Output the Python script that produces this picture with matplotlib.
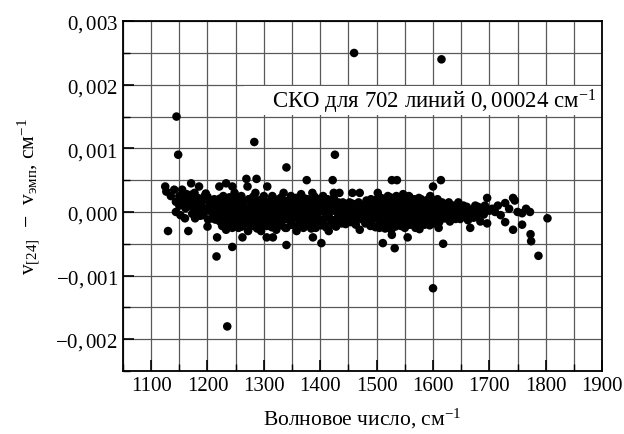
import matplotlib
matplotlib.use("Agg")
import matplotlib.pyplot as plt
import numpy as np
from matplotlib.patches import Rectangle
from matplotlib.ticker import MultipleLocator, FuncFormatter

plt.rcParams['font.family'] = ['Liberation Serif', 'DejaVu Serif']
plt.rcParams['mathtext.fontset'] = 'custom'
plt.rcParams['mathtext.rm'] = 'Liberation Serif'
plt.rcParams['mathtext.it'] = 'Liberation Serif:italic'

# Волновые числа линий (см^-1) и невязки, в единицах 1e-4 см^-1
wn_left = [1125, 1127, 1130, 1135, 1141, 1145, 1148, 1144, 1144, 1150, 1155, 1152,
           1158, 1162, 1160, 1166, 1168, 1171, 1171, 1175, 1178, 1180, 1185, 1185,
           1188, 1192, 1195, 1198, 1200, 1200,
           1150, 1157, 1163, 1170, 1177, 1183, 1190, 1197, 1204, 1154, 1161, 1168,
           1175, 1182, 1189, 1196, 1203, 1173, 1187, 1201]
res_left = [4, 3.2, -3, 2.5, 3.5, 15, 9, 1.6, 0, 1, 3.5, -0.5,
            2, 0.8, -1, -3, 1.5, 4.5, 2.7, 0.5, -1, 2, 4, 0,
            1, -0.5, 2.5, 0.5, 2.4, -2.3,
            2.5, 2.0, 2.8, 1.8, 3.0, 2.2, 1.6, 2.9, 1.5, 1.2, 0.6, 1.0,
            1.4, 0.8, 1.2, 0.5, 0.2, -0.3, -0.6, -1.2]

wn_1200 = [1205, 1208, 1210, 1212, 1215, 1216, 1217, 1220, 1221, 1222, 1225, 1228,
           1230, 1233, 1233, 1235, 1236, 1238, 1240, 1242, 1244, 1244, 1245, 1248,
           1250, 1252, 1255, 1258, 1260, 1262, 1264, 1266, 1269, 1270, 1271, 1272,
           1275, 1277, 1280, 1282, 1283, 1285, 1287, 1288, 1290, 1293, 1295, 1297,
           1300, 1300]
res_1200 = [1, -1, 0.3, 2, -0.5, -7, -4, 1.2, 4, -1.5, 0.5, 2.5,
            -1, 4.5, -2.8, -18, 1, -0.3, 2, -1.8, 4, -5.5, 0.5, 3,
            -1, 1.5, -2.5, 0, 2.5, -4, 1, -1.5, 5.2, 0.5, 4, -3,
            2, -0.8, 1, -2.2, 11, 3, 5.2, 0, -1.5, 1.8, -3, 0.6,
            2.5, -1]

wn_1300 = [1303, 1305, 1306, 1308, 1310, 1312, 1315, 1316, 1318, 1320, 1322, 1325,
           1327, 1330, 1332, 1335, 1336, 1338, 1340, 1340, 1341, 1344, 1346, 1348,
           1350, 1352, 1355, 1357, 1358, 1360, 1362, 1364, 1366, 1368, 1370, 1372,
           1375, 1376, 1377, 1380, 1382, 1384, 1386, 1387, 1388, 1390, 1392, 1395,
           1397, 1400, 1400]
res_1300 = [0, -4, 4, 1.5, -2, 0.8, 2.5, -4, -1, 1.2, -2.8, 0,
            2, -1.5, 1, 3, -0.5, -2.5, 7, -5.2, 1.5, -1, 0.5, 2.5,
            -2, 1, -0.5, 2, -3, 0.5, 1.5, -1.5, 2.8, 0, -2.5, 1,
            -1, 5, 2, 0, -1.8, 1.5, 3, -4, -0.5, 1, -2.5, 2,
            0, -1.2, 1.5]

wn_1400 = [1402, 1403, 1405, 1407, 1409, 1411, 1413, 1415, 1417, 1419, 1421, 1422,
           1424, 1426, 1426, 1428, 1430, 1432, 1434, 1436, 1438, 1440, 1442, 1445,
           1447, 1450, 1452, 1455, 1457, 1458, 1460, 1462, 1464, 1466, 1468, 1470,
           1470, 1472, 1475, 1477, 1480, 1482, 1485, 1487, 1490, 1492, 1495, 1497,
           1500]
res_1400 = [-4.9, 0.5, 2.5, -2, 1, -0.5, 2, -3, 0, 1.5, -1.5, 5,
            3, 9, 0.5, -2.2, 1, -0.8, 3, 0, -1.8, 1.5, -0.5, 1,
            -1.5, 0.3, 1.5, -1, 3, 0.5, 25, -1.8, 1, -0.5, 1.5, 3,
            -2.8, 0, -1.2, 1, -0.3, 1.8, -1.5, 0.5, 2, -2, 0, 1.5,
            -1]

wn_1500 = [1502, 1503, 1505, 1507, 1509, 1511, 1512, 1514, 1516, 1518, 1520, 1522,
           1524, 1526, 1527, 1527, 1528, 1530, 1532, 1533, 1535, 1536, 1537, 1539,
           1541, 1543, 1545, 1547, 1549, 1551, 1553, 1555, 1556, 1557, 1559, 1561,
           1563, 1565, 1567, 1569, 1571, 1573, 1575, 1577, 1579, 1581, 1583, 1585,
           1587, 1589, 1591, 1593, 1595, 1597, 1599, 1600, 1600]
res_1500 = [3, 0.5, -2.5, 1.5, -0.5, -4.9, 2, 0, -1.8, 1, 2.5, -1,
            0.5, -2.8, 5, -3.6, 1.8, -0.5, -5.7, 1, 2.5, 5, -1.5, 0,
            1.8, -2.2, 0.8, 2.8, -1, 0.3, 1.5, -4, -2, 2.5, 0, -1.2,
            1.5, -0.5, 2, -2.5, 0.5, 1.5, -1.5, 0, 2, -0.8, 1, -2,
            0.3, 1.8, -1, 0.8, 2.5, -1.8, 0, 4, -12]

wn_1600 = [1602, 1604, 1606, 1608, 1610, 1612, 1614, 1615, 1616, 1618, 1619, 1621,
           1623, 1625, 1628, 1630, 1633, 1636, 1639, 1642, 1645, 1648, 1651, 1654,
           1657, 1660, 1662, 1666, 1668, 1671, 1675, 1678, 1680, 1684, 1688, 1692,
           1696, 1696, 1700,
           1632, 1638, 1645, 1651, 1657, 1663, 1670, 1676, 1683, 1690, 1636, 1648,
           1660, 1672]
res_1600 = [1.5, -1, 0.5, 2, -2.5, 0, 5, 24, 1.5, -5, -1, 0.5,
            -0.5, 0.6, 1.5, -1.5, 0.3, 1, -1, 0, 1.5, -0.5, 0.5, 1,
            -0.3, 0.8, -1.3, -2.5, 0.3, 0.3, 1, -0.5, 0.8, -1.5, 0.5, 1,
            2.2, -1.8, 0.2,
            1.0, 0.4, 0.8, -0.2, 0.6, 0.2, -0.8, 0.5, 0.1, -0.4, -0.9, -1.1,
            -0.6, -0.9]

wn_right = [1705, 1710, 1715, 1720, 1728, 1728, 1735, 1742, 1742, 1745, 1750, 1758,
            1758, 1765, 1772, 1773, 1774, 1787, 1803]
res_right = [0.5, 0, 1, -0.5, 1.4, -1.6, 0.5, 2.2, -2.8, 1.8, 0, -0.2,
             -2, 0.5, 0, -3.5, -4.6, -6.9, -1]

# плотное ядро 1210-1640 см^-1
wn_core_a = [1222, 1231, 1239, 1247, 1256, 1264, 1273, 1281, 1290, 1298, 1306, 1315,
             1323, 1331, 1340, 1348, 1357, 1365, 1373, 1382, 1390, 1398, 1407, 1415,
             1424, 1432, 1440, 1449, 1457, 1466, 1474, 1483, 1491, 1499, 1508, 1516,
             1524, 1533, 1541, 1550, 1558, 1566, 1575, 1583, 1592, 1600, 1608]
res_core_a = [2.1, 1.7, 2.3, 1.9, 2.2, 1.6, 2.0, 2.4, 1.8, 2.1, 1.5, 2.2,
              1.9, 2.3, 1.7, 2.0, 2.2, 1.6, 2.1, 1.9, 2.4, 1.7, 2.0, 1.8,
              2.2, 1.5, 1.2, 1.0, 1.3, 0.9, 1.1, 1.4, 1.6, 1.9, 2.2, 1.8,
              2.3, 2.0, 1.7, 2.1, 2.4, 1.9, 2.2, 1.6, 2.0, 1.8, 1.2]
wn_core_b = [1212, 1219, 1227, 1236, 1244, 1252, 1260, 1269, 1277, 1286, 1294, 1302,
             1311, 1319, 1327, 1336, 1344, 1352, 1361, 1369, 1378, 1386, 1394, 1403,
             1411, 1420, 1428, 1436, 1445, 1453, 1462, 1470, 1478, 1487, 1495, 1504,
             1512, 1520, 1529, 1537, 1546, 1554, 1562, 1571, 1579, 1588, 1596, 1604,
             1613, 1621, 1630]
res_core_b = [1.3, 0.8, 1.1, 0.7, 1.2, 0.9, 1.4, 0.6, 1.0, 1.2, 0.8, 1.3,
              0.9, 1.1, 0.7, 1.2, 1.0, 0.8, 1.3, 0.9, 1.1, 0.6, 1.2, 1.0,
              0.8, 1.3, 0.9, 0.4, 0.6, 0.3, 0.7, 0.5, 0.8, 1.0, 0.9, 1.2,
              0.7, 1.1, 1.3, 0.9, 1.0, 1.2, 0.8, 1.1, 0.9, 1.3, 0.7, 1.0,
              0.6, 0.8, 0.5]
wn_core_c = [1208, 1216, 1224, 1232, 1241, 1249, 1257, 1266, 1274, 1282, 1291, 1299,
             1307, 1316, 1324, 1333, 1341, 1349, 1358, 1366, 1374, 1383, 1391, 1399,
             1408, 1416, 1425, 1433, 1441, 1450, 1458, 1466, 1475, 1483, 1491, 1500,
             1508, 1517, 1525, 1533, 1542, 1550, 1558, 1567, 1575, 1583, 1592, 1600,
             1609, 1617, 1626, 1634, 1643]
res_core_c = [0.2, -0.3, 0.1, -0.2, 0.3, -0.1, 0.0, 0.2, -0.4, 0.1, -0.2, 0.3,
              0.0, -0.3, 0.2, -0.1, 0.1, -0.2, 0.3, 0.0, -0.1, 0.2, -0.3, 0.1,
              0.0, -0.2, 0.2, -0.1, 0.0, -0.3, 0.1, -0.2, 0.0, 0.2, -0.1, 0.1,
              -0.3, 0.2, 0.0, -0.2, 0.1, -0.1, 0.3, 0.0, -0.2, 0.1, -0.1, 0.2,
              0.0, -0.3, 0.1, -0.1, 0.0]
wn_core_d = [1214, 1222, 1230, 1238, 1247, 1255, 1263, 1272, 1280, 1288, 1297, 1305,
             1313, 1322, 1330, 1338, 1347, 1355, 1363, 1372, 1380, 1389, 1397, 1405,
             1414, 1422, 1430, 1439, 1447, 1456, 1464, 1472, 1481, 1489, 1497, 1506,
             1514, 1522, 1531, 1539, 1548, 1556, 1564, 1573, 1581, 1589, 1598, 1606,
             1614, 1623, 1631, 1640]
res_core_d = [-1.2, -0.8, -1.1, -1.4, -0.9, -1.3, -1.0, -0.7, -1.2, -1.1, -0.9, -1.3,
              -1.0, -1.2, -0.8, -1.1, -1.4, -0.9, -1.2, -1.0, -1.3, -0.8, -1.1, -1.2,
              -0.9, -1.3, -1.0, -0.8, -1.1, -0.9, -1.2, -0.8, -1.0, -1.3, -0.9, -1.1,
              -1.2, -0.8, -1.3, -1.0, -1.1, -0.9, -1.2, -1.4, -1.0, -0.8, -1.1, -1.2,
              -0.9, -1.0, -0.8, -1.1]
wn_core_e = [1226, 1235, 1244, 1253, 1261, 1270, 1279, 1288, 1296, 1305, 1314, 1323,
             1331, 1340, 1349, 1358, 1366, 1375, 1384, 1393, 1401, 1410, 1419, 1428,
             1436, 1445, 1454, 1463, 1480, 1489, 1498, 1506, 1515, 1524, 1533, 1541,
             1550, 1559, 1568, 1576, 1585, 1594, 1603, 1611]
res_core_e = [-2.2, -1.8, -2.5, -2.0, -2.3, -1.7, -2.1, -2.6, -1.9, -2.2, -2.4, -1.8,
              -2.1, -2.5, -2.0, -2.3, -1.9, -2.2, -2.6, -1.8, -2.1, -2.4, -2.0, -2.3,
              -1.7, -1.9, -1.6, -2.0, -1.8, -2.2, -2.4, -1.9, -2.6, -2.1, -2.3, -1.8,
              -2.5, -2.0, -2.2, -2.7, -1.9, -2.1, -1.8, -1.6]

x_ticks = [1100, 1200, 1300, 1400, 1500, 1600, 1700, 1800, 1900]
y_ticks = [-0.002, -0.001, 0.000, 0.001, 0.002, 0.003]

wn = np.array(wn_left + wn_1200 + wn_1300 + wn_1400 + wn_1500 + wn_1600 + wn_right
              + wn_core_a + wn_core_b + wn_core_c + wn_core_d + wn_core_e)
res = np.array(res_left + res_1200 + res_1300 + res_1400 + res_1500 + res_1600 + res_right
               + res_core_a + res_core_b + res_core_c + res_core_d + res_core_e) * 1e-4


def comma_fmt(v, pos):
    if abs(v) < 1e-9:
        v = 0.0
    return f"${v:.3f}$".replace('.', ',')


fig = plt.figure(figsize=(6.24, 4.35), dpi=100)
ax = fig.add_axes([0.197, 0.145, 0.768, 0.804])
ax.set_axisbelow(True)

ax.scatter(wn, res, s=38, c='black', edgecolors='none', zorder=3)

ax.set_xlim(1050, 1900)
ax.set_ylim(-0.0025, 0.003)
ax.set_xticks(x_ticks)
ax.set_yticks(y_ticks)
ax.xaxis.set_minor_locator(MultipleLocator(50))
ax.yaxis.set_minor_locator(MultipleLocator(0.0005))
ax.yaxis.set_major_formatter(FuncFormatter(comma_fmt))

ax.grid(True, which='both', color='0.35', linewidth=0.9)
ax.tick_params(which='both', direction='in', top=False, right=False,
               labelsize=15, color='black')
ax.tick_params(which='major', length=8, width=1.2)
ax.tick_params(which='minor', length=5, width=1.0)
for sp in ax.spines.values():
    sp.set_linewidth(1.3)

ax.set_xlabel('Волновое число, см$^{-1}$', fontsize=15.5, labelpad=8)
ax.set_ylabel('v$_{[24]}$  \u2212  v$_{\\mathrm{эмп}}$, см$^{-1}$', fontsize=15.5, labelpad=10)

# белая подложка под подписью, между линиями сетки 0,0015 и 0,002
ax.add_patch(Rectangle((1265, 0.00152), 635, 0.00046, facecolor='white',
                       edgecolor='none', zorder=2))
ax.text(1890, 0.00175, 'СКО для 702 линий $0,00024$ см$^{-1}$',
        ha='right', va='center', fontsize=16.5, zorder=4)

fig.savefig('out.png', dpi=100)
